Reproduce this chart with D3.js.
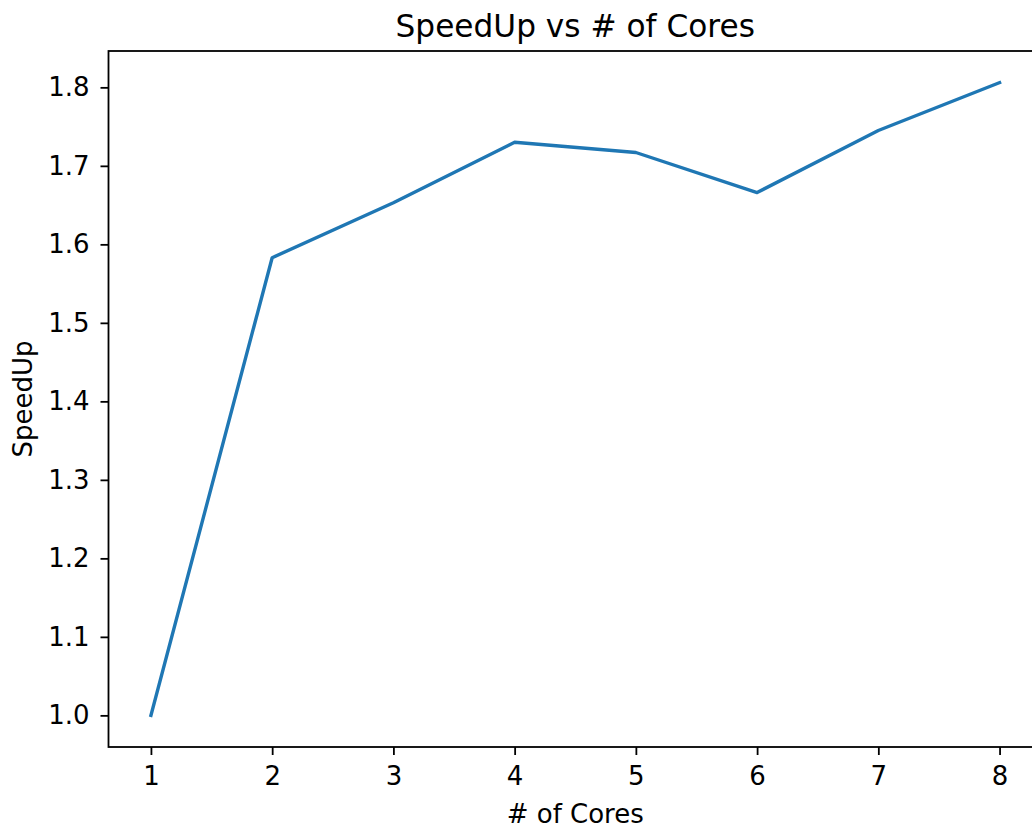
<!DOCTYPE html>
<html>
<head>
<meta charset="utf-8">
<script src="https://cdn.jsdelivr.net/npm/d3@7"></script>
<style>
  body { margin: 0; background: #fff; }
  text { font-family: "DejaVu Sans", sans-serif; fill: #000; }
</style>
</head>
<body>
<div id="chart"></div>
<script>
// data
const cores = [1, 2, 3, 4, 5, 6, 7, 8];
const speedUp = [1.0, 1.583, 1.653, 1.730, 1.717, 1.666, 1.745, 1.806];
const xTicks = [1, 2, 3, 4, 5, 6, 7, 8];
const yTicks = [1.0, 1.1, 1.2, 1.3, 1.4, 1.5, 1.6, 1.7, 1.8];

const width = 1032, height = 828;
// axes box (right side runs past the edge, like the reference)
const margin = { top: 51, right: -10, bottom: 81, left: 108.5 };
const innerW = width - margin.left - margin.right;
const innerH = height - margin.top - margin.bottom;

const svg = d3.select('#chart')
  .append('svg')
    .attr('width', width)
    .attr('height', height);

const g = svg.append('g')
    .attr('transform', `translate(${margin.left},${margin.top})`);

// matplotlib-style 5% padding around the data
const xPad = (d3.max(cores) - d3.min(cores)) * 0.05;
const yPad = (d3.max(speedUp) - d3.min(speedUp)) * 0.05;

const x = d3.scaleLinear()
  .domain([d3.min(cores) - xPad, d3.max(cores) + xPad])
  .range([0, innerW]);

const y = d3.scaleLinear()
  .domain([d3.min(speedUp) - yPad, d3.max(speedUp) + yPad])
  .range([innerH, 0]);

const tickSize = 8;
const fontSize = 26;

const xAxis = g.append('g')
    .attr('transform', `translate(0,${innerH})`)
    .call(d3.axisBottom(x).tickValues(xTicks).tickFormat(d3.format('d'))
      .tickSize(tickSize).tickPadding(12));

const yAxis = g.append('g')
    .call(d3.axisLeft(y).tickValues(yTicks).tickFormat(d3.format('.1f'))
      .tickSize(tickSize).tickPadding(11));

[xAxis, yAxis].forEach(a => {
  a.select('.domain').remove();
  a.selectAll('.tick line').attr('stroke', '#000').attr('stroke-width', 1.8);
  a.selectAll('.tick text')
    .style('font-family', '"DejaVu Sans", sans-serif')
    .style('font-size', fontSize + 'px')
    .attr('fill', '#000');
});

// spines
g.append('rect')
    .attr('x', 0)
    .attr('y', 0)
    .attr('width', innerW)
    .attr('height', innerH)
    .attr('fill', 'none')
    .attr('stroke', '#000')
    .attr('stroke-width', 1.8);

// the line
const line = d3.line()
  .x((d, i) => x(cores[i]))
  .y(d => y(d));

g.append('path')
    .datum(speedUp)
    .attr('d', line)
    .attr('fill', 'none')
    .attr('stroke', '#1f77b4')
    .attr('stroke-width', 3.4)
    .attr('stroke-linejoin', 'round')
    .attr('stroke-linecap', 'square');

// title and axis labels, centred on the full axes box
const axesMid = margin.left + (x(8.35) - x(0.65)) / 2;

svg.append('text')
    .attr('x', axesMid)
    .attr('y', 37)
    .attr('text-anchor', 'middle')
    .style('font-size', '31.2px')
    .text('SpeedUp vs # of Cores');

svg.append('text')
    .attr('x', axesMid)
    .attr('y', 823)
    .attr('text-anchor', 'middle')
    .style('font-size', fontSize + 'px')
    .text('# of Cores');

svg.append('text')
    .attr('transform', `translate(32,${margin.top + innerH / 2}) rotate(-90)`)
    .attr('text-anchor', 'middle')
    .style('font-size', fontSize + 'px')
    .text('SpeedUp');
</script>
</body>
</html>
